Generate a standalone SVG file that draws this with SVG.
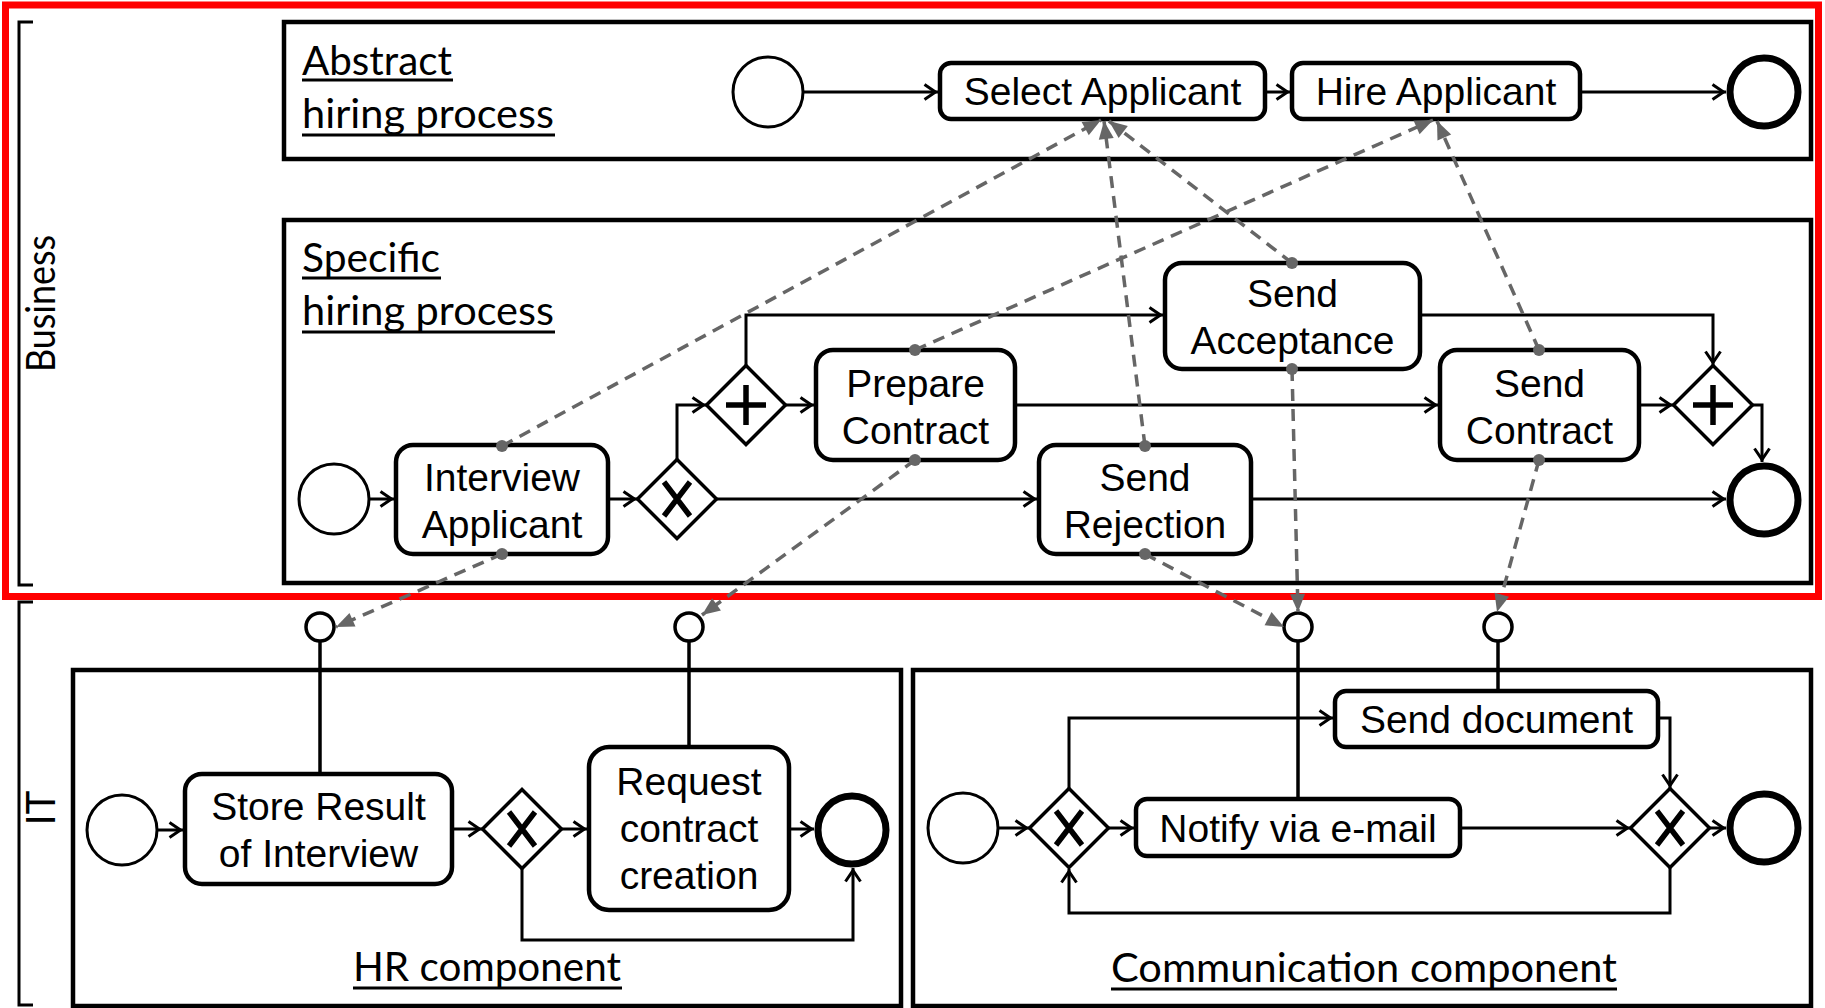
<svg xmlns="http://www.w3.org/2000/svg" width="1825" height="1008" viewBox="0 0 1825 1008">
  <style>
    .lane { fill: none; stroke: #000; stroke-width: 4.5; }
    .task { fill: #fff; stroke: #000; stroke-width: 4.5; }
    .start { fill: #fff; stroke: #000; stroke-width: 3; }
    .end { fill: #fff; stroke: #000; stroke-width: 7; }
    .gw { fill: #fff; stroke: #000; stroke-width: 3.5; stroke-linejoin: miter; }
    .gwmark { fill: none; stroke: #000; stroke-width: 5.5; }
    .flow { fill: none; stroke: #000; stroke-width: 3; marker-end: url(#arrow); }
    .assoc { fill: none; stroke: #666; stroke-width: 3.5; stroke-dasharray: 12 8; marker-start: url(#dot); marker-end: url(#tri); }
    .svc { fill: #fff; stroke: #000; stroke-width: 3.5; }
    .stem { fill: none; stroke: #000; stroke-width: 3.5; }
    .bracket { fill: none; stroke: #000; stroke-width: 3; }
    .lbl { font-family: "Liberation Sans", Arial, sans-serif; font-size: 39px; text-anchor: middle; fill: #000; }
    .title { font-family: Lato, "Open Sans", "Liberation Sans", sans-serif; font-size: 40px; fill: #000; }
    .ul { stroke: #000; stroke-width: 3; }
  </style>
  <defs>
    <marker id="arrow" viewBox="-16 -10 18 20" refX="0" refY="0" markerWidth="18" markerHeight="20" markerUnits="userSpaceOnUse" orient="auto" overflow="visible">
      <path d="M-13.5,-7.5 L-2.5,0 L-13.5,7.5" fill="none" stroke="#000" stroke-width="3"/>
    </marker>
    <marker id="tri" viewBox="-19 -8 20 16" refX="0" refY="0" markerWidth="20" markerHeight="16" markerUnits="userSpaceOnUse" orient="auto" overflow="visible">
      <path d="M-18,-7.5 L0,0 L-18,7.5 Z" fill="#666"/>
    </marker>
    <marker id="dot" viewBox="-7 -7 14 14" refX="0" refY="0" markerWidth="14" markerHeight="14" markerUnits="userSpaceOnUse" overflow="visible">
      <circle cx="0" cy="0" r="6" fill="#666"/>
    </marker>
    <g id="gwX">
      <path class="gw" d="M0,-39.5 L39.5,0 L0,39.5 L-39.5,0 Z"/>
      <path class="gwmark" d="M-13,-17 L13,17 M13,-17 L-13,17"/>
    </g>
    <g id="gwP">
      <path class="gw" d="M0,-39.5 L39.5,0 L0,39.5 L-39.5,0 Z"/>
      <path class="gwmark" d="M-20,0 H20 M0,-20 V20"/>
    </g>
  </defs>

  <rect width="1825" height="1008" fill="#fff"/>

  <!-- layer brackets and titles -->
  <g id="layer-business">
    <path class="bracket" d="M33,22 H19 V585 H33"/>
    <text class="title" transform="translate(55,303.5) rotate(-90)" text-anchor="middle" font-size="37" textLength="137" lengthAdjust="spacingAndGlyphs">Business</text>
  </g>
  <g id="layer-it">
    <path class="bracket" d="M33,602 H19 V1005 H33"/>
    <text class="title" transform="translate(55,808) rotate(-90)" text-anchor="middle" font-size="37">IT</text>
  </g>

  <!-- process pools -->
  <g id="pool-abstract">
    <rect class="lane" x="284" y="22" width="1527" height="137"/>
    <text class="title" x="302" y="75" textLength="150" lengthAdjust="spacingAndGlyphs">Abstract</text>
    <line class="ul" x1="302" y1="80" x2="453" y2="80"/>
    <text class="title" x="302" y="128" textLength="252" lengthAdjust="spacingAndGlyphs">hiring process</text>
    <line class="ul" x1="302" y1="135" x2="555" y2="135"/>
  </g>
  <g id="pool-specific">
    <rect class="lane" x="284" y="220" width="1527" height="363"/>
    <text class="title" x="302" y="272" textLength="138" lengthAdjust="spacingAndGlyphs">Specific</text>
    <line class="ul" x1="302" y1="278" x2="441" y2="278"/>
    <text class="title" x="302" y="325" textLength="252" lengthAdjust="spacingAndGlyphs">hiring process</text>
    <line class="ul" x1="302" y1="332" x2="555" y2="332"/>
  </g>
  <g id="pool-hr">
    <rect class="lane" x="73" y="670" width="828" height="336"/>
    <text class="title" x="487" y="981" text-anchor="middle" textLength="268" lengthAdjust="spacingAndGlyphs">HR component</text>
    <line class="ul" x1="353" y1="988" x2="622" y2="988"/>
  </g>
  <g id="pool-communication">
    <rect class="lane" x="913" y="670" width="898" height="336"/>
    <text class="title" x="1364" y="982" text-anchor="middle" textLength="506" lengthAdjust="spacingAndGlyphs">Communication component</text>
    <line class="ul" x1="1111" y1="989" x2="1617" y2="989"/>
  </g>

  <!-- business layer highlight -->
  <rect x="5.5" y="5" width="1813" height="591.5" fill="none" stroke="#ff0000" stroke-width="7"/>

  <!-- sequence flows -->
  <g id="sequence-flows">
    <path class="flow" d="M803,92 H938"/>
    <path class="flow" d="M1265,92 H1290"/>
    <path class="flow" d="M1580,92 H1726"/>

    <path class="flow" d="M369,499 H394"/>
    <path class="flow" d="M608,499 H637"/>
    <path class="flow" d="M677,459 V405 H706"/>
    <path class="flow" d="M717,499 H1037"/>
    <path class="flow" d="M786,405 H814"/>
    <path class="flow" d="M746,366 V315 H1163"/>
    <path class="flow" d="M1015,405 H1438"/>
    <path class="flow" d="M1420,315 H1713 V365"/>
    <path class="flow" d="M1639,405 H1673"/>
    <path class="flow" d="M1753,405 H1762 V462"/>
    <path class="flow" d="M1251,499 H1726"/>

    <path class="flow" d="M157,830 H183"/>
    <path class="flow" d="M452,829 H482"/>
    <path class="flow" d="M561,829 H587"/>
    <path class="flow" d="M789,829 H814"/>
    <path class="flow" d="M522,868 V940 H853 V868"/>

    <path class="flow" d="M998,828 H1029"/>
    <path class="flow" d="M1108,828 H1134"/>
    <path class="flow" d="M1069,789 V718 H1333"/>
    <path class="flow" d="M1658,718 H1670 V788"/>
    <path class="flow" d="M1460,828 H1630"/>
    <path class="flow" d="M1709,828 H1726"/>
    <path class="flow" d="M1670,867 V913 H1069 V869"/>
  </g>

  <!-- service interface stems -->
  <g id="service-stems">
    <path class="stem" d="M320,641 V774"/>
    <path class="stem" d="M689,641 V747"/>
    <path class="stem" d="M1298,641 V799"/>
    <path class="stem" d="M1498,641 V691"/>
  </g>

  <!-- abstract hiring process -->
  <g id="abs-start"><circle class="start" cx="768" cy="92" r="35"/></g>
  <g id="abs-select">
    <rect class="task" x="940" y="63" width="325" height="56" rx="11"/>
    <text class="lbl" x="1102.5" y="105">Select Applicant</text>
  </g>
  <g id="abs-hire">
    <rect class="task" x="1292" y="63" width="288" height="56" rx="11"/>
    <text class="lbl" x="1436" y="105">Hire Applicant</text>
  </g>
  <g id="abs-end"><circle class="end" cx="1764" cy="92" r="34"/></g>

  <!-- specific hiring process -->
  <g id="spec-start"><circle class="start" cx="334" cy="499" r="35"/></g>
  <g id="spec-interview">
    <rect class="task" x="396" y="445" width="212" height="109" rx="17"/>
    <text class="lbl" x="502" y="491">Interview</text>
    <text class="lbl" x="502" y="538">Applicant</text>
  </g>
  <g id="spec-xor"><use href="#gwX" x="677" y="499"/></g>
  <g id="spec-split"><use href="#gwP" x="746" y="405"/></g>
  <g id="spec-prepare">
    <rect class="task" x="816" y="350" width="199" height="110" rx="17"/>
    <text class="lbl" x="915.5" y="397">Prepare</text>
    <text class="lbl" x="915.5" y="444">Contract</text>
  </g>
  <g id="spec-acceptance">
    <rect class="task" x="1165" y="263" width="255" height="106" rx="17"/>
    <text class="lbl" x="1292.5" y="307">Send</text>
    <text class="lbl" x="1292.5" y="354">Acceptance</text>
  </g>
  <g id="spec-rejection">
    <rect class="task" x="1039" y="445" width="212" height="109" rx="17"/>
    <text class="lbl" x="1145" y="491">Send</text>
    <text class="lbl" x="1145" y="538">Rejection</text>
  </g>
  <g id="spec-contract">
    <rect class="task" x="1440" y="350" width="199" height="110" rx="17"/>
    <text class="lbl" x="1539.5" y="397">Send</text>
    <text class="lbl" x="1539.5" y="444">Contract</text>
  </g>
  <g id="spec-join"><use href="#gwP" x="1713" y="405"/></g>
  <g id="spec-end"><circle class="end" cx="1764" cy="500" r="34"/></g>

  <!-- HR component -->
  <g id="hr-svc-store"><circle class="svc" cx="320" cy="627" r="14"/></g>
  <g id="hr-svc-request"><circle class="svc" cx="689" cy="627" r="14"/></g>
  <g id="hr-start"><circle class="start" cx="122" cy="830" r="35"/></g>
  <g id="hr-store">
    <rect class="task" x="185" y="774" width="267" height="110" rx="17"/>
    <text class="lbl" x="318.5" y="820">Store Result</text>
    <text class="lbl" x="318.5" y="867">of Interview</text>
  </g>
  <g id="hr-xor"><use href="#gwX" x="522" y="829"/></g>
  <g id="hr-request">
    <rect class="task" x="589" y="747" width="200" height="163" rx="20"/>
    <text class="lbl" x="689" y="795">Request</text>
    <text class="lbl" x="689" y="842">contract</text>
    <text class="lbl" x="689" y="889">creation</text>
  </g>
  <g id="hr-end"><circle class="end" cx="852" cy="830" r="34"/></g>

  <!-- Communication component -->
  <g id="com-svc-notify"><circle class="svc" cx="1298" cy="627" r="14"/></g>
  <g id="com-svc-document"><circle class="svc" cx="1498" cy="627" r="14"/></g>
  <g id="com-start"><circle class="start" cx="963" cy="828" r="35"/></g>
  <g id="com-xor-split"><use href="#gwX" x="1069" y="828"/></g>
  <g id="com-notify">
    <rect class="task" x="1136" y="799" width="324" height="57" rx="11"/>
    <text class="lbl" x="1298" y="841.5">Notify via e-mail</text>
  </g>
  <g id="com-document">
    <rect class="task" x="1335" y="691" width="323" height="56" rx="11"/>
    <text class="lbl" x="1496.5" y="733">Send document</text>
  </g>
  <g id="com-xor-join"><use href="#gwX" x="1670" y="828"/></g>
  <g id="com-end"><circle class="end" cx="1764" cy="828" r="34"/></g>

  <!-- refinement / implementation associations -->
  <g id="associations">
    <path class="assoc" d="M502,446 L1101,120"/>
    <path class="assoc" d="M1145,446 L1104,121"/>
    <path class="assoc" d="M1292,263 L1109,121"/>
    <path class="assoc" d="M915,350 L1433,120"/>
    <path class="assoc" d="M1539,350 L1437,121"/>
    <path class="assoc" d="M502,554 L336,627"/>
    <path class="assoc" d="M915,460 L702,615"/>
    <path class="assoc" d="M1145,554 L1284,627"/>
    <path class="assoc" d="M1292,369 L1298,612"/>
    <path class="assoc" d="M1539,460 L1497,612"/>
  </g>
</svg>
